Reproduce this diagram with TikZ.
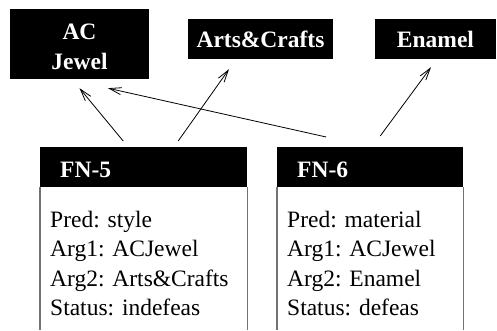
\documentclass[tikz,border=0pt]{standalone}
\usepackage{fontspec}
\setmainfont{Liberation Serif}
\usetikzlibrary{arrows.meta}
\tikzset{topbox/.style = {fill=black, text=white, font=\fontsize{23.5}{30}\selectfont\bfseries, inner sep=0pt, align=center},
         hdr/.style = {fill=black, text=white, font=\fontsize{23.5}{29.5}\selectfont\bfseries, inner xsep=20pt, inner ysep=0pt, minimum height=40pt, text height=20pt, text depth=0pt, align=left, anchor=north west},
         body/.style = {font=\fontsize{23.5}{29.5}\selectfont, inner sep=0pt, anchor=base west},
         side/.style = {draw=black!55, line width=1.2pt},
         link/.style = {-{Straight Barb[length=12pt,width=7pt]}, line width=0.8pt}}

\begin{document}
\begin{tikzpicture}[x=1pt,y=1pt]
        \useasboundingbox (0,0) rectangle (497,-330);
        \coordinate (floor) at (0,-330);
        % concepts
        \node[topbox, minimum width=139pt, minimum height=70pt](acj)at(79.5,-44){\begin{tabular}{@{}c@{}}\rule{0pt}{29pt}AC\\Jewel\end{tabular}};
        \node[topbox, minimum width=145pt, minimum height=40pt](arts)at(260.5,-39){Arts\&Crafts};
        \node[topbox, minimum width=121pt, minimum height=40pt](enam)at(435.5,-39){Enamel};

        % frames
        \node[hdr, text width=167pt](fn5)at(40,-147){FN-5};
        \node[body](fn5b)at(50,-227){\begin{tabular}[t]{@{}l@{}}Pred: style\\Arg1: ACJewel\\Arg2: Arts\&Crafts\\Status: indefeas\end{tabular}};
        \draw[side](fn5.south west)--(fn5.south west |- floor);
        \draw[side](fn5.south east)--(fn5.south east |- floor);

        \node[hdr, text width=146pt](fn6)at(277,-147){FN-6};
        \node[body](fn6b)at(287,-227){\begin{tabular}[t]{@{}l@{}}Pred: material\\Arg1: ACJewel\\Arg2: Enamel\\Status: defeas\end{tabular}};
        \draw[side](fn6.south west)--(fn6.south west |- floor);
        \draw[side](fn6.south east)--(fn6.south east |- floor);

        % links
        \draw[link]([shift={(-20.5,6)}]fn5.north)--([shift={(0,-9)}]acj.south);
        \draw[link]([shift={(34.5,6)}]fn5.north)--([shift={(-31.5,-10)}]arts.south);
        \draw[link]([shift={(-44,10)}]fn6.north)--([shift={(28.5,-9)}]acj.south);
        \draw[link]([shift={(10,11)}]fn6.north)--([shift={(-4.5,-8)}]enam.south);
\end{tikzpicture}
\end{document}
